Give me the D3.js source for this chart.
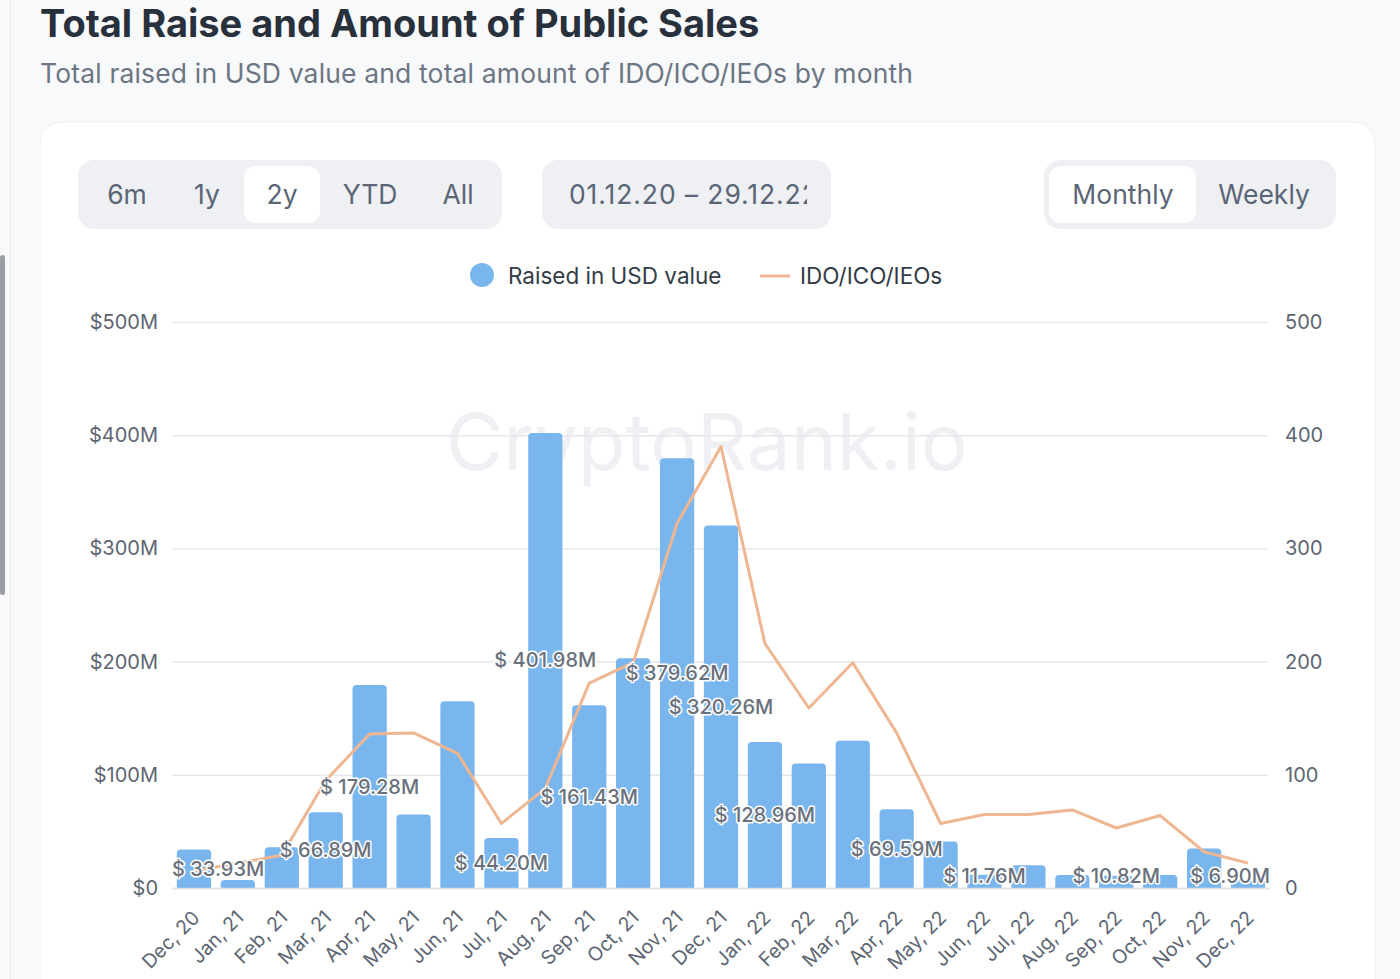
<!DOCTYPE html>
<html>
<head>
<meta charset="utf-8">
<script src="https://cdn.jsdelivr.net/npm/d3@7"></script>
<style>
  html, body { margin: 0; padding: 0; background: #f8f9fb; }
  body { width: 1400px; height: 979px; overflow: hidden; font-family: Inter, "Noto Sans", sans-serif; }
  svg { display: block; }
</style>
</head>
<body>
<svg id="chart" width="1400" height="979"></svg>
<script>
// months on the x axis
const months = ["Dec, 20", "Jan, 21", "Feb, 21", "Mar, 21", "Apr, 21", "May, 21", "Jun, 21", "Jul, 21",
  "Aug, 21", "Sep, 21", "Oct, 21", "Nov, 21", "Dec, 21", "Jan, 22", "Feb, 22", "Mar, 22", "Apr, 22",
  "May, 22", "Jun, 22", "Jul, 22", "Aug, 22", "Sep, 22", "Oct, 22", "Nov, 22", "Dec, 22"];

// raised in USD value, millions
const raised = [33.93, 7, 36, 66.89, 179.28, 65, 165, 44.20, 401.98, 161.43, 203, 379.62, 320.26,
  128.96, 110, 130, 69.59, 41, 11.76, 20, 11.5, 10.82, 11.5, 35, 6.90];

// amount of IDO/ICO/IEOs
const sales = [15, 22, 29, 95, 136, 137, 119, 57, 88, 181, 199, 322, 390, 216, 159, 199, 137, 57,
  65, 65, 69, 53, 64, 32, 22];

// months whose value label is drawn
const labelled = ["Dec, 20", "Mar, 21", "Apr, 21", "Jul, 21", "Aug, 21", "Sep, 21", "Nov, 21",
  "Dec, 21", "Jan, 22", "Apr, 22", "Jun, 22", "Sep, 22", "Dec, 22"];

const leftTicks = [0, 100, 200, 300, 400, 500];
const rightTicks = [0, 100, 200, 300, 400, 500];
const rangeButtons = ["6m", "1y", "2y", "YTD", "All"];
const periodButtons = ["Monthly", "Weekly"];

const barColor = "#7ab6ee";
const lineColor = "#efb692";

const svg = d3.select("#chart");

// left edge of the page (scroll bar and border)
svg.append("line").attr("x1", 10.5).attr("x2", 10.5).attr("y1", 0).attr("y2", 979)
  .attr("stroke", "#e9ebef");
svg.append("rect").attr("x", 0).attr("y", 255).attr("width", 5).attr("height", 340)
  .attr("rx", 2.5).attr("fill", "#9a9da3");

// titles
svg.append("text").attr("x", 40).attr("y", 37)
  .attr("font-size", 38).attr("font-weight", 700).attr("fill", "#28303c")
  .text("Total Raise and Amount of Public Sales");
svg.append("text").attr("x", 40).attr("y", 83)
  .attr("font-size", 26.5).attr("letter-spacing", 0.15).attr("fill", "#6c7583")
  .text("Total raised in USD value and total amount of IDO/ICO/IEOs by month");

// card
svg.append("rect").attr("x", 40).attr("y", 122).attr("width", 1335).attr("height", 900)
  .attr("rx", 22).attr("fill", "#fff").attr("stroke", "#f0f1f4");

// button groups
const groupBg = "#eef0f4";
const btnText = "#5b6576";

const g1 = svg.append("g");
g1.append("rect").attr("x", 78).attr("y", 160).attr("width", 424).attr("height", 69)
  .attr("rx", 16).attr("fill", groupBg);
g1.append("rect").attr("x", 244).attr("y", 166).attr("width", 76).attr("height", 57)
  .attr("rx", 12).attr("fill", "#fff");
const rangeX = [127, 207, 282, 370, 458];
g1.selectAll("text.range")
  .data(rangeButtons)
  .join("text")
  .attr("class", "range")
  .attr("x", (d, i) => rangeX[i])
  .attr("y", 204)
  .attr("text-anchor", "middle")
  .attr("font-size", 26.5)
  .attr("fill", btnText)
  .text(d => d);

const g2 = svg.append("g");
g2.append("clipPath").attr("id", "dateClip")
  .append("rect").attr("x", 542).attr("y", 160).attr("width", 265).attr("height", 69);
g2.append("rect").attr("x", 542).attr("y", 160).attr("width", 289).attr("height", 69)
  .attr("rx", 16).attr("fill", groupBg);
g2.append("text").attr("x", 569).attr("y", 204)
  .attr("font-size", 26.5).attr("letter-spacing", 0.9).attr("fill", btnText)
  .attr("clip-path", "url(#dateClip)")
  .text("01.12.20 \u2013 29.12.22");

const g3 = svg.append("g");
g3.append("rect").attr("x", 1044).attr("y", 160).attr("width", 292).attr("height", 69)
  .attr("rx", 16).attr("fill", groupBg);
g3.append("rect").attr("x", 1049).attr("y", 166).attr("width", 147).attr("height", 57)
  .attr("rx", 12).attr("fill", "#fff");
const periodX = [1123, 1264];
g3.selectAll("text.period")
  .data(periodButtons)
  .join("text")
  .attr("class", "period")
  .attr("x", (d, i) => periodX[i])
  .attr("y", 204)
  .attr("text-anchor", "middle")
  .attr("font-size", 26.5)
  .attr("fill", btnText)
  .text(d => d);

// watermark
svg.append("text").attr("x", 707).attr("y", 470)
  .attr("text-anchor", "middle").attr("font-size", 78)
  .attr("fill", "#eef0f3")
  .text("CryptoRank.io");

// legend
const legend = svg.append("g");
legend.append("circle").attr("cx", 482).attr("cy", 275).attr("r", 12).attr("fill", barColor);
legend.append("text").attr("x", 508).attr("y", 284).attr("font-size", 22.5).attr("fill", "#333b47")
  .text("Raised in USD value");
legend.append("line").attr("x1", 760).attr("x2", 790).attr("y1", 276).attr("y2", 276)
  .attr("stroke", lineColor).attr("stroke-width", 3);
legend.append("text").attr("x", 800).attr("y", 284).attr("font-size", 22.5).attr("fill", "#333b47")
  .text("IDO/ICO/IEOs");

// scales
const x = d3.scaleBand().domain(months).range([172, 1270]).paddingInner(0.22).paddingOuter(0.11);
const yLeft = d3.scaleLinear().domain([0, 500]).range([888, 322]);
const yRight = d3.scaleLinear().domain([0, 500]).range([888, 322]);

// gridlines
svg.append("g")
  .selectAll("line")
  .data(leftTicks)
  .join("line")
  .attr("x1", 172).attr("x2", 1268)
  .attr("y1", d => yLeft(d) + 0.5).attr("y2", d => yLeft(d) + 0.5)
  .attr("stroke", "#e6e7ea").attr("stroke-width", 1.5);

// left axis
const leftAxis = svg.append("g").attr("transform", "translate(172,0)")
  .call(d3.axisLeft(yLeft).tickValues(leftTicks).tickSize(0).tickPadding(14)
    .tickFormat(d => d === 0 ? "$0" : `$${d}M`));
leftAxis.select(".domain").remove();
leftAxis.selectAll("text").attr("font-size", 20).attr("fill", "#5d6572")
  .attr("font-family", "Inter, sans-serif");

// right axis
const rightAxis = svg.append("g").attr("transform", "translate(1270,0)")
  .call(d3.axisRight(yRight).tickValues(rightTicks).tickSize(0).tickPadding(15));
rightAxis.select(".domain").remove();
rightAxis.selectAll("text").attr("font-size", 20).attr("fill", "#5d6572")
  .attr("font-family", "Inter, sans-serif");

// bars, rounded top corners
const barPath = d => {
  const x0 = x(d.month), w = x.bandwidth(), y0 = yLeft(d.value), b = yLeft(0);
  const r = Math.min(4, (b - y0) / 2, w / 2);
  return `M${x0},${b}V${y0 + r}Q${x0},${y0} ${x0 + r},${y0}H${x0 + w - r}Q${x0 + w},${y0} ${x0 + w},${y0 + r}V${b}Z`;
};
const barData = months.map((m, i) => ({ month: m, value: raised[i], count: sales[i] }));

svg.append("g")
  .selectAll("path")
  .data(barData)
  .join("path")
  .attr("d", barPath)
  .attr("fill", barColor);

// bottom axis line
svg.append("line").attr("x1", 172).attr("x2", 1270).attr("y1", 888.5).attr("y2", 888.5)
  .attr("stroke", "#dfe4ec").attr("stroke-width", 1.5);

// x axis labels
const bottomAxis = svg.append("g").attr("transform", "translate(0,888)")
  .call(d3.axisBottom(x).tickSize(0).tickPadding(0));
bottomAxis.select(".domain").remove();
bottomAxis.selectAll("text")
  .attr("font-size", 19.5).attr("fill", "#5d6572").attr("font-family", "Inter, sans-serif")
  .attr("text-anchor", "end")
  .attr("dy", 0)
  .attr("transform", "translate(7,31) rotate(-45)");

// line series
const line = d3.line()
  .x(d => x(d.month) + x.bandwidth() / 2)
  .y(d => yRight(d.count));
svg.append("path")
  .datum(barData)
  .attr("d", line)
  .attr("fill", "none")
  .attr("stroke", lineColor)
  .attr("stroke-width", 3)
  .attr("stroke-linejoin", "round");

// data labels in the middle of the bars
const labels = svg.append("g")
  .selectAll("text")
  .data(barData.filter(d => labelled.includes(d.month)))
  .join("text")
  .attr("font-size", 20)
  .attr("font-weight", 500)
  .attr("fill", "#6a717c")
  .attr("stroke", "#fff")
  .attr("stroke-width", 3)
  .attr("stroke-linejoin", "round")
  .attr("paint-order", "stroke")
  .attr("text-anchor", "middle")
  .attr("dominant-baseline", "central")
  .text(d => `$ ${d.value.toFixed(2)}M`);

labels.each(function (d) {
  const w = this.getComputedTextLength();
  let cx = x(d.month) + x.bandwidth() / 2;
  cx = Math.max(172 + w / 2, Math.min(1270 - w / 2, cx));
  const cy = Math.min((yLeft(d.value) + yLeft(0)) / 2, 876);
  d3.select(this).attr("x", cx).attr("y", cy);
});
</script>
</body>
</html>
